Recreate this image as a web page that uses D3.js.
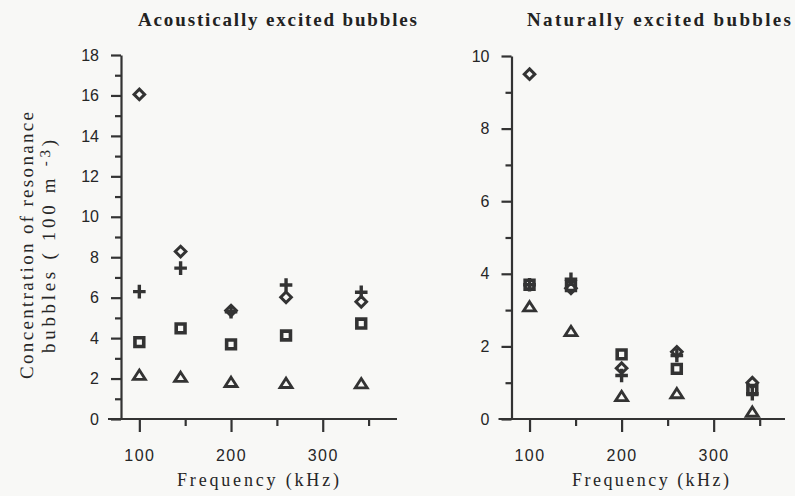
<!DOCTYPE html>
<html>
<head>
<meta charset="utf-8">
<script src="https://cdn.jsdelivr.net/npm/d3@7"></script>
<style>
  body { margin: 0; background: #f8f8f6; }
  svg { display: block; }
</style>
</head>
<body>
<script>
// DATA
var freqs = [100, 145, 200, 260, 342];

// acoustically excited
var acDiamond  = [16.05, 8.28, 5.36, 6.02, 5.8];
var acCross    = [6.3, 7.46, 5.3, 6.63, 6.27];
var acSquare   = [3.8, 4.48, 3.69, 4.13, 4.72];
var acTriangle = [2.18, 2.08, 1.83, 1.78, 1.76];

// naturally excited
var ntDiamond  = [9.5, 3.6, 1.4, 1.85, 1.0];
var ntCross    = [3.7, 3.85, 1.2, 1.75, 0.7];
var ntSquare   = [3.7, 3.66, 1.78, 1.38, 0.8];
var ntTriangle = [3.1, 2.42, 0.63, 0.71, 0.2];

var xMajor = [100, 200, 300];
var xMinor = [150, 250, 350];

var ink = "#333";
var W = 795, H = 496;

var svg = d3.select("body").append("svg")
    .attr("width", W)
    .attr("height", H);

// MARKER SHAPES
var shapes = {
  diamond: function(g) {
    g.append("path").attr("d", "M0,-5.3L5.3,0L0,5.3L-5.3,0Z")
      .attr("fill", "none").attr("stroke", ink).attr("stroke-width", 3);
  },
  cross: function(g) {
    g.append("path").attr("d", "M-6.3,0H6.3M0,-6.8V6.8")
      .attr("fill", "none").attr("stroke", ink).attr("stroke-width", 3.4);
  },
  square: function(g) {
    g.append("path").attr("d", "M-4.4,-4.4H4.4V4.4H-4.4Z")
      .attr("fill", "none").attr("stroke", ink).attr("stroke-width", 3.6);
  },
  triangle: function(g) {
    g.append("path").attr("d", "M0,-4.8L6,4.5H-6Z")
      .attr("fill", "none").attr("stroke", ink).attr("stroke-width", 2.8)
      .attr("stroke-linejoin", "miter");
  }
};

function panel(opt) {
  var x = d3.scaleLinear().domain(opt.xDomain).range(opt.xRange);
  var y = d3.scaleLinear().domain([0, opt.yMax]).range([419, opt.yTop]);

  var g = svg.append("g");

  // x axis line sticks out left of the y axis
  g.append("line")
    .attr("x1", opt.xRange[0] - 13).attr("x2", opt.xRange[1])
    .attr("y1", y(0)).attr("y2", y(0))
    .attr("stroke", ink).attr("stroke-width", 2.2);

  var xa = g.append("g").attr("transform", "translate(0," + y(0) + ")")
    .call(d3.axisBottom(x).tickValues(xMajor).tickSize(13).tickPadding(18));
  var xm = g.append("g").attr("transform", "translate(0," + y(0) + ")")
    .call(d3.axisBottom(x).tickValues(xMinor).tickSize(7).tickFormat(""));

  var evens = d3.range(0, opt.yMax + 1, 2);
  var odds = d3.range(1, opt.yMax, 2);
  var ya = g.append("g").attr("transform", "translate(" + opt.xRange[0] + ",0)")
    .call(d3.axisLeft(y).tickValues(evens).tickSize(10).tickPadding(12).tickSizeOuter(0));
  var ym = g.append("g").attr("transform", "translate(" + opt.xRange[0] + ",0)")
    .call(d3.axisLeft(y).tickValues(odds).tickSize(6).tickFormat(""));

  [xa, xm, ya, ym].forEach(function(a) {
    a.selectAll(".tick line").attr("stroke", ink).attr("stroke-width", 2.2);
    a.selectAll("text")
      .attr("fill", "#262626")
      .style("font-family", "'Liberation Sans', Arial, sans-serif")
      .style("font-size", "16px");
  });
  xa.select(".domain").remove();
  xm.select(".domain").remove();
  ym.select(".domain").remove();
  ya.select(".domain").attr("stroke", ink).attr("stroke-width", 2.2);
  xa.selectAll("text").style("letter-spacing", "1.5px");

  // series
  opt.series.forEach(function(s) {
    g.selectAll(null).data(s.values).enter().append("g")
      .attr("transform", function(d, i) { return "translate(" + x(freqs[i]) + "," + y(d) + ")"; })
      .each(function() { shapes[s.shape](d3.select(this)); });
  });

  // titles
  svg.append("text")
    .attr("x", opt.titleX[0]).attr("y", 26)
    .attr("textLength", opt.titleX[1] - opt.titleX[0])
    .attr("lengthAdjust", "spacing")
    .attr("fill", "#222")
    .style("font-family", "'Liberation Serif', 'Times New Roman', serif")
    .style("font-weight", "bold")
    .style("font-size", "19px")
    .text(opt.title);

  svg.append("text")
    .attr("x", opt.xlabX[0]).attr("y", 486)
    .attr("textLength", opt.xlabX[1] - opt.xlabX[0])
    .attr("lengthAdjust", "spacing")
    .attr("fill", "#262626")
    .style("font-family", "'Liberation Serif', 'Times New Roman', serif")
    .style("font-size", "18px")
    .text("Frequency (kHz)");
}

panel({
  xDomain: [80, 381], xRange: [121, 397],
  yMax: 18, yTop: 55,
  title: "Acoustically excited bubbles", titleX: [138, 417],
  xlabX: [177, 339],
  series: [
    {shape: "diamond", values: acDiamond},
    {shape: "cross", values: acCross},
    {shape: "square", values: acSquare},
    {shape: "triangle", values: acTriangle}
  ]
});

panel({
  xDomain: [80.4, 377.5], xRange: [511.5, 785],
  yMax: 10, yTop: 56,
  title: "Naturally excited bubbles", titleX: [527, 791],
  xlabX: [572, 729],
  series: [
    {shape: "square", values: ntSquare},
    {shape: "diamond", values: ntDiamond},
    {shape: "cross", values: ntCross},
    {shape: "triangle", values: ntTriangle}
  ]
});

// Y LABEL (two rotated lines)
var ylab = svg.append("g").attr("transform", "translate(0,246) rotate(-90)")
  .style("font-family", "'Liberation Serif', 'Times New Roman', serif")
  .style("font-size", "19px")
  .style("text-rendering", "geometricPrecision");
ylab.append("text").attr("x", -133).attr("y", 33)
  .attr("fill", "#262626")
  .attr("textLength", 267).attr("lengthAdjust", "spacing")
  .text("Concentration of resonance");
var l2 = ylab.append("text").attr("x", -107).attr("y", 55)
  .attr("fill", "#262626")
  .attr("textLength", 213).attr("lengthAdjust", "spacing");
l2.append("tspan").text("bubbles ( 100 m ");
l2.append("tspan").attr("dy", -5).style("font-size", "15px").text("-3");
l2.append("tspan").attr("dy", 5).text(")");
</script>
</body>
</html>
